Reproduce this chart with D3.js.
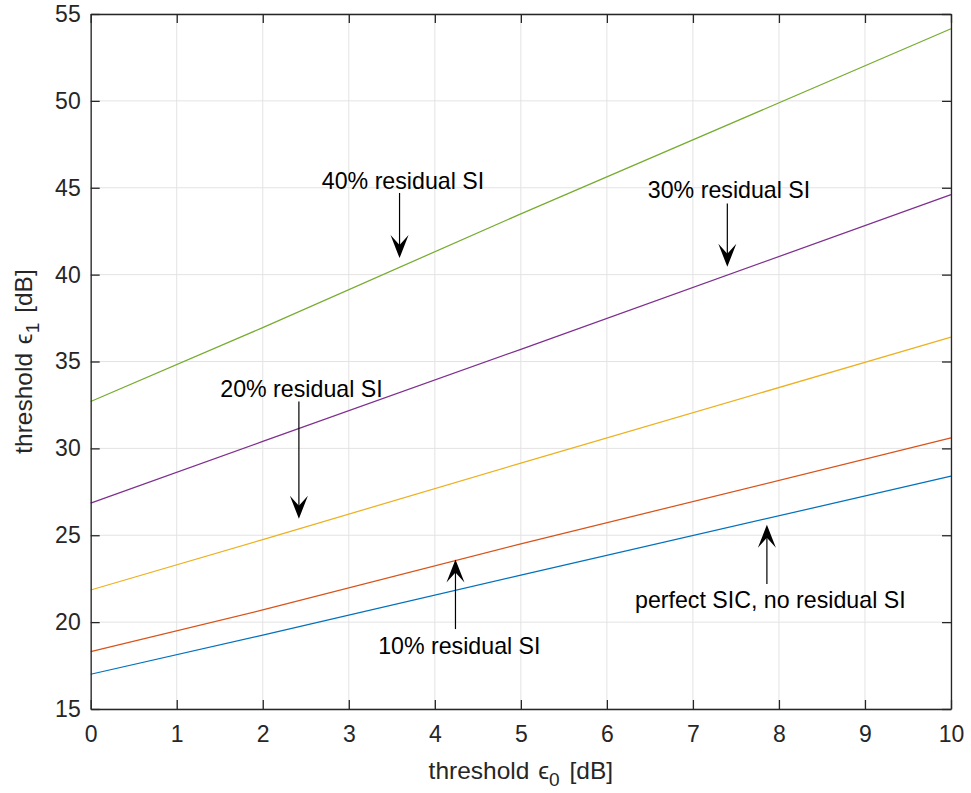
<!DOCTYPE html>
<html>
<head>
<meta charset="utf-8">
<script src="https://cdn.jsdelivr.net/npm/d3@7/dist/d3.min.js"></script>
<style>
  html, body { margin: 0; padding: 0; background: #fff; }
  svg { display: block; font-family: "Liberation Sans", Arial, Helvetica, sans-serif; }
</style>
</head>
<body>
<svg id="chart" width="971" height="793"></svg>
<script>
// Threshold epsilon_0 [dB] sample points
const eps0 = [0, 2, 5, 10];

// Threshold epsilon_1 [dB] for each residual self-interference level
const perfectSIC = [17.0, 19.25, 22.7, 28.4];
const residual10 = [18.3, 20.7, 24.5, 30.6];
const residual20 = [21.85, 24.75, 29.15, 36.4];
const residual30 = [26.85, 30.4, 35.7, 44.6];
const residual40 = [32.7, 36.95, 43.5, 54.15];

const seriesNames = ["perfect SIC", "10%", "20%", "30%", "40%"];
const seriesValues = [perfectSIC, residual10, residual20, residual30, residual40];
const seriesColors = ["#0072BD", "#D95319", "#EDB120", "#7E2F8E", "#77AC30"];

const xTicks = [0, 1, 2, 3, 4, 5, 6, 7, 8, 9, 10];
const yTicks = [15, 20, 25, 30, 35, 40, 45, 50, 55];

// Annotation text and arrows, in data units
const annoLabels = ["40% residual SI", "30% residual SI", "20% residual SI", "10% residual SI", "perfect SIC, no residual SI"];
const annoTextX = [3.63, 7.42, 2.45, 4.285, 7.90];
const annoTextY = [44.91, 44.39, 32.97, 18.17, 20.80];
const annoArrowX = [3.59, 7.40, 2.42, 4.24, 7.86];
const annoTailY = [44.7, 44.1, 32.7, 19.6, 22.2];
const annoTipY = [40.95, 40.45, 25.95, 23.6, 25.6];

const svg = d3.select("#chart");
const plot = { left: 90.7, right: 951, top: 14, bottom: 709 };

const x = d3.scaleLinear().domain([0, 10]).range([plot.left, plot.right]);
const y = d3.scaleLinear().domain([15, 55]).range([plot.bottom, plot.top]);

const axisColor = "#262626";
const tickFont = 23;
const labelFont = 24.5;
const annoFont = 23.2;

// Grid
const grid = svg.append("g").attr("stroke", "#e3e3e3").attr("stroke-width", 1);
grid.selectAll("line.vx").data(xTicks).join("line")
  .attr("x1", d => x(d)).attr("x2", d => x(d))
  .attr("y1", plot.top).attr("y2", plot.bottom);
grid.selectAll("line.hy").data(yTicks).join("line")
  .attr("x1", plot.left).attr("x2", plot.right)
  .attr("y1", d => y(d)).attr("y2", d => y(d));

// Data lines
const line = d3.line().x(d => x(d[0])).y(d => y(d[1]));
svg.append("g").selectAll("path").data(seriesValues).join("path")
  .attr("fill", "none")
  .attr("stroke", (d, i) => seriesColors[i])
  .attr("stroke-width", 1.25)
  .attr("d", vals => line(eps0.map((e, j) => [e, vals[j]])));

// Axes with inward ticks on all four sides
function styleAxis(g) {
  g.select(".domain").attr("stroke", axisColor).attr("stroke-width", 1.3);
  g.selectAll(".tick line").attr("stroke", axisColor).attr("stroke-width", 1.3);
  g.selectAll(".tick text").attr("fill", axisColor).attr("font-size", tickFont)
    .attr("font-family", "'Liberation Sans', Arial, sans-serif");
}
svg.append("g").attr("transform", `translate(0,${plot.bottom})`)
  .call(d3.axisBottom(x).tickValues(xTicks).tickSize(-9).tickSizeOuter(0).tickPadding(17).tickFormat(d3.format("d")))
  .call(styleAxis);
svg.append("g").attr("transform", `translate(0,${plot.top})`)
  .call(d3.axisTop(x).tickValues(xTicks).tickSize(-9).tickSizeOuter(0).tickFormat(""))
  .call(styleAxis);
svg.append("g").attr("transform", `translate(${plot.left},0)`)
  .call(d3.axisLeft(y).tickValues(yTicks).tickSize(-9).tickSizeOuter(0).tickPadding(10).tickFormat(d3.format("d")))
  .call(styleAxis);
svg.append("g").attr("transform", `translate(${plot.right},0)`)
  .call(d3.axisRight(y).tickValues(yTicks).tickSize(-9).tickSizeOuter(0).tickFormat(""))
  .call(styleAxis);

// Axis labels
function axisLabel(sel, sub) {
  sel.append("tspan").text("threshold ");
  sel.append("tspan").attr("dx", 2).text("ϵ");
  sel.append("tspan").attr("font-size", labelFont * 0.78).attr("dy", 7).text(sub);
  sel.append("tspan").attr("dy", -7).attr("dx", 3).text(" [dB]");
}
const xl = svg.append("text").attr("x", (plot.left + plot.right) / 2).attr("y", 779)
  .attr("text-anchor", "middle").attr("font-size", labelFont).attr("fill", axisColor);
axisLabel(xl, "0");

const yl = svg.append("text")
  .attr("transform", `translate(32,${(plot.top + plot.bottom) / 2}) rotate(-90)`)
  .attr("text-anchor", "middle").attr("font-size", labelFont).attr("fill", axisColor);
axisLabel(yl, "1");

// Annotations
const anno = svg.append("g");
annoLabels.forEach((label, i) => {
  anno.append("text").attr("x", x(annoTextX[i])).attr("y", y(annoTextY[i]))
    .attr("text-anchor", "middle").attr("font-size", annoFont).attr("fill", "#000")
    .text(label);
  const ax = x(annoArrowX[i]);
  const tail = y(annoTailY[i]);
  const tip = y(annoTipY[i]);
  const dir = tip > tail ? 1 : -1;
  anno.append("line").attr("x1", ax).attr("x2", ax)
    .attr("y1", tail).attr("y2", tip - dir * 12)
    .attr("stroke", "#000").attr("stroke-width", 1.2);
  const headLen = 23, headHalf = 9, notch = 13;
  anno.append("path")
    .attr("d", `M${ax},${tip} L${ax - headHalf},${tip - dir * headLen} L${ax},${tip - dir * notch} L${ax + headHalf},${tip - dir * headLen} Z`)
    .attr("fill", "#000");
});
</script>
</body>
</html>
